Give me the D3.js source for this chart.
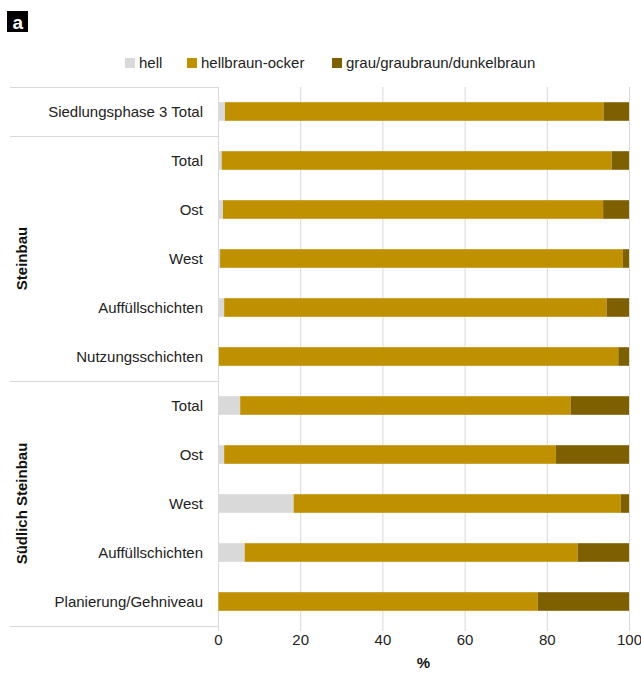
<!DOCTYPE html>
<html>
<head>
<meta charset="utf-8">
<script src="https://cdn.jsdelivr.net/npm/d3@7/dist/d3.min.js"></script>
<style>
  html, body { margin: 0; padding: 0; background: #fff; }
  svg { display: block; font-family: "Liberation Sans", Arial, sans-serif; }
</style>
</head>
<body>
<svg id="chart" width="641" height="677"></svg>
<script>
// ---- data ----
const categories = ["Siedlungsphase 3 Total", "Total", "Ost", "West", "Auffüllschichten", "Nutzungsschichten",
                    "Total", "Ost", "West", "Auffüllschichten", "Planierung/Gehniveau"];
const groupOf = [null, "Steinbau", "Steinbau", "Steinbau", "Steinbau", "Steinbau",
                 "Südlich Steinbau", "Südlich Steinbau", "Südlich Steinbau", "Südlich Steinbau", "Südlich Steinbau"];
const seriesNames = ["hell", "hellbraun-ocker", "grau/graubraun/dunkelbraun"];
const hell   = [1.7, 0.9, 1.2, 0.5, 1.5, 0.2, 5.4, 1.5, 18.4, 6.5, 0.1];
const ocker  = [92.1, 94.9, 92.5, 98.0, 93.1, 97.2, 80.4, 80.7, 79.6, 81.0, 77.7];
const dunkel = [6.2, 4.2, 6.3, 1.5, 5.4, 2.6, 14.2, 17.8, 2.0, 12.5, 22.2];
const xTicks = [0, 20, 40, 60, 80, 100];
const colors = ["#d9d9d9", "#bf9000", "#7f6000"];

(function () {
// ---- build table ----
const rows = categories.map((c, i) => ({
  id: "r" + i, label: c, group: groupOf[i],
  [seriesNames[0]]: hell[i], [seriesNames[1]]: ocker[i], [seriesNames[2]]: dunkel[i]
}));

const svg = d3.select("#chart");
const FONT = 15;
const pLeft = 218, pRight = 629, pTop = 87, pBottom = 626;

const x = d3.scaleLinear().domain([0, 100]).range([pLeft, pRight]);
const y = d3.scaleBand().domain(rows.map(d => d.id)).range([pTop, pBottom]).paddingInner(0.62).paddingOuter(0.31);
const color = d3.scaleOrdinal().domain(seriesNames).range(colors);

// gridlines + ticks via axis
const axis = d3.axisBottom(x).tickValues(xTicks).tickSize(pBottom - pTop + 5).tickFormat(d3.format("d"));
const gAxis = svg.append("g").attr("transform", `translate(0,${pTop})`).call(axis);
gAxis.select(".domain").remove();
gAxis.selectAll(".tick line").attr("stroke", "#d9d9d9").attr("stroke-width", 1);
gAxis.selectAll(".tick text")
  .attr("y", pBottom - pTop + 19).attr("dy", 0)
  .attr("font-size", FONT).attr("fill", "#222").attr("font-family", "Liberation Sans, Arial, sans-serif");

// frame lines on left label area
const stepBoundaries = [0, 1, 6, 11].map(i => pTop + i * y.step());
svg.append("g").selectAll("line").data(stepBoundaries).join("line")
  .attr("x1", 10).attr("x2", pLeft).attr("y1", d => Math.round(d) + 0.5).attr("y2", d => Math.round(d) + 0.5)
  .attr("stroke", "#d9d9d9").attr("stroke-width", 1);

// stacked bars
const stacked = d3.stack().keys(seriesNames)(rows);
svg.append("g").selectAll("g").data(stacked).join("g")
  .attr("fill", d => color(d.key))
  .selectAll("rect").data(d => d).join("rect")
  .attr("x", d => x(d[0]))
  .attr("width", d => Math.max(0, x(d[1]) - x(d[0])))
  .attr("y", d => y(d.data.id))
  .attr("height", y.bandwidth());

// category labels
svg.append("g").selectAll("text").data(rows).join("text")
  .attr("x", 203).attr("y", d => y(d.id) + y.bandwidth() / 2)
  .attr("dy", "0.36em").attr("text-anchor", "end")
  .attr("font-size", FONT).attr("fill", "#222")
  .text(d => d.label);

// group labels
const groups = Array.from(d3.group(rows.filter(r => r.group), r => r.group), ([k, v]) => ({
  name: k, y0: y(v[0].id) - y.step() * y.paddingInner() / 2,
  y1: y(v[v.length - 1].id) + y.bandwidth() + y.step() * y.paddingInner() / 2
}));
svg.append("g").selectAll("text").data(groups).join("text")
  .attr("transform", d => `translate(27,${(d.y0 + d.y1) / 2}) rotate(-90)`)
  .attr("text-anchor", "middle").attr("font-size", FONT).attr("font-weight", "bold").attr("fill", "#111")
  .text(d => d.name);

// axis title
svg.append("text").attr("x", x(50)).attr("y", 668).attr("text-anchor", "middle")
  .attr("font-size", FONT).attr("font-weight", "bold").attr("fill", "#111").text("%");

// legend
const legendX = [125, 187, 332];
const lg = svg.append("g").selectAll("g").data(seriesNames).join("g")
  .attr("transform", (d, i) => `translate(${legendX[i]},58)`);
lg.append("rect").attr("width", 10).attr("height", 10).attr("fill", d => color(d));
lg.append("text").attr("x", 14).attr("y", 10.3).attr("font-size", FONT).attr("fill", "#222").text(d => d);

// panel label
svg.append("rect").attr("x", 7).attr("y", 11).attr("width", 21).attr("height", 21).attr("fill", "#000");
svg.append("text").attr("x", 17.8).attr("y", 28.5).attr("text-anchor", "middle")
  .attr("font-size", 19).attr("font-weight", "bold").attr("fill", "#fff").text("a");
})();
</script>
</body>
</html>
